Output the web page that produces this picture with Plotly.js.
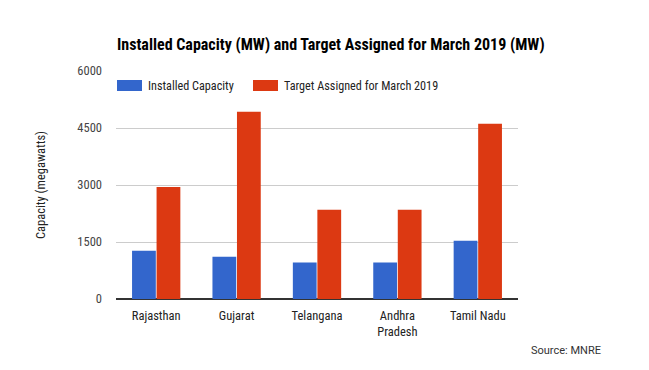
<!DOCTYPE html>
<html><head><meta charset="utf-8">
<script src="https://cdn.plot.ly/plotly-3.0.1.min.js"></script>
<style>html,body{margin:0;padding:0;background:#fff}#c{width:649px;height:370px}</style>
</head><body><div id="c"></div>
<script>
const categories = ["Rajasthan", "Gujarat", "Telangana", "Andhra<br>Pradesh", "Tamil Nadu"];
const installed = [1270, 1110, 960, 960, 1530];
const target = [2950, 4930, 2350, 2350, 4610];
const seriesNames = ["Installed Capacity", "Target Assigned for March 2019"];
const yTicks = [0, 1500, 3000, 4500, 6000];

const colors = ["#3366cc", "#dc3912"];
const font = "'Roboto Condensed', Roboto, sans-serif";

const traces = [
  {type: "bar", x: categories, y: installed, name: seriesNames[0], marker: {color: colors[0]}, showlegend: false, hoverinfo: "none"},
  {type: "bar", x: categories, y: target, name: seriesNames[1], marker: {color: colors[1]}, showlegend: false, hoverinfo: "none"}
];

const px = (x) => (x - 116) / 402;
const py = (y) => (299 - y) / 228;

const layout = {
  width: 649, height: 370,
  margin: {l: 116, r: 131, t: 71, b: 71},
  paper_bgcolor: "#fff", plot_bgcolor: "#fff",
  barmode: "group", bargap: 0.39, bargroupgap: 0.03,
  title: {text: "<b>Installed Capacity (MW) and Target Assigned for March 2019 (MW)</b>",
          font: {family: "'Roboto Condensed', Roboto, sans-serif", size: 16, color: "#000"},
          x: 117/649, xanchor: "left", y: 1 - 44/370, yanchor: "middle"},
  xaxis: {tickfont: {family: font, size: 12.5, color: "#222"}, showgrid: false, showline: false, ticks: "", fixedrange: true, ticklabelstandoff: 7},
  yaxis: {range: [0, 6000], tickvals: yTicks, ticktext: yTicks.map(String),
          tickfont: {family: font, size: 12.5, color: "#444"}, gridcolor: "#cccccc", gridwidth: 1,
          zeroline: true, zerolinecolor: "#333", zerolinewidth: 1.5, showline: false, ticks: "", ticklen: 0,
          ticklabelstandoff: 13,
          title: {text: "Capacity (megawatts)", font: {family: font, size: 12.5, color: "#222"}, standoff: 28}},
  shapes: [
    {type: "rect", xref: "paper", yref: "paper", x0: px(117), x1: px(142), y0: py(91), y1: py(80), fillcolor: colors[0], line: {width: 0}},
    {type: "rect", xref: "paper", yref: "paper", x0: px(253), x1: px(278), y0: py(91), y1: py(80), fillcolor: colors[1], line: {width: 0}}
  ],
  annotations: [
    {text: seriesNames[0], xref: "paper", yref: "paper", x: px(146), y: py(85.5), xanchor: "left", yanchor: "middle", showarrow: false, font: {family: font, size: 12.2, color: "#222"}},
    {text: seriesNames[1], xref: "paper", yref: "paper", x: px(282), y: py(85.5), xanchor: "left", yanchor: "middle", showarrow: false, font: {family: font, size: 12.2, color: "#222"}},
    {text: "Source: MNRE", xref: "paper", yref: "paper", x: px(603), y: py(350), xanchor: "right", yanchor: "middle", showarrow: false, font: {family: "Roboto, sans-serif", size: 11, color: "#333"}}
  ]
};
Plotly.newPlot("c", traces, layout, {displayModeBar: false, staticPlot: true});
</script></body></html>
